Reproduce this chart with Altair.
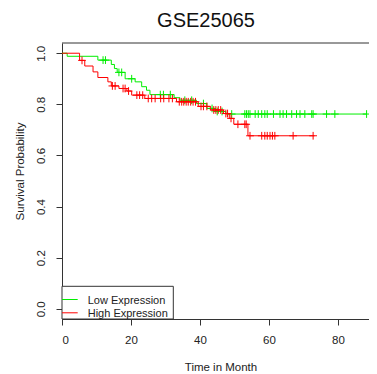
import altair as alt
import pandas as pd
import numpy as np

chart_title = "GSE25065"
groups = ["Low Expression", "High Expression"]
colors = ["#00ee00", "#ff0000"]

# Low expression (green) KM steps
low_t = [0, 1.5, 10.4, 14.3, 15.2, 16.0, 18.3, 21.2, 23.1, 24.5, 25.5, 32.5, 34.2, 39.0, 42.0, 44.5, 47.5]
low_s = [1.0, 0.988, 0.973, 0.956, 0.94, 0.925, 0.90, 0.888, 0.869, 0.855, 0.838, 0.826, 0.816, 0.803, 0.784, 0.772, 0.762]
low_end = 88.3
low_cens = [11.9, 12.6, 16.5, 17.3, 20.2, 28.5, 29.4, 31.4, 35.6, 37.6, 41.0, 43.5, 45.0, 46.4, 49.2,
            53.0, 53.5, 54.0, 54.5, 56.0, 56.9, 57.9, 58.8, 59.5, 61.3, 63.2, 64.1, 65.1, 66.6, 68.0,
            69.0, 70.4, 72.4, 72.8, 76.7, 79.1, 88.3]

# High expression (red) KM steps
high_t = [0, 5.1, 6.6, 9.0, 10.4, 13.3, 14.3, 16.5, 18.8, 20.2, 24.0, 33.2, 39.5, 43.0, 46.8, 48.5, 49.8, 53.9]
high_s = [1.0, 0.972, 0.95, 0.927, 0.905, 0.888, 0.872, 0.862, 0.852, 0.836, 0.823, 0.81, 0.792, 0.778, 0.764, 0.745, 0.722, 0.677]
high_end = 73.2
high_cens = [5.8, 14.6, 15.4, 17.7, 18.3, 19.3, 21.7, 22.5, 23.4, 25.0, 26.0, 27.0, 28.6, 29.5, 31.0, 32.0,
             34.0, 34.7, 35.3, 36.0, 36.6, 37.3, 38.0, 38.7, 40.3, 41.0, 42.0, 44.0, 44.6, 45.3, 46.0,
             47.5, 48.0, 49.0, 51.0, 53.0, 53.4, 54.5, 57.9, 58.8, 59.5, 60.3, 61.0, 61.7, 67.0, 72.8]

x_ticks = [0, 20, 40, 60, 80]
y_ticks = [0.0, 0.2, 0.4, 0.6, 0.8, 1.0]

W, H = 307, 276
FONT = "Liberation Sans"
AX = "#333333"


def curve(t, s, end, g):
    return pd.DataFrame({"time": list(t) + [end], "surv": list(s) + [s[-1]], "group": g})


def censor(t, s, cens, g):
    idx = np.searchsorted(np.array(t), np.array(cens), side="right") - 1
    return pd.DataFrame({"time": cens, "surv": np.array(s)[idx], "group": g})


xs = alt.Scale(domain=[0, 89], nice=False, zero=False)
ys = alt.Scale(domain=[-0.04, 1.04], nice=False, zero=False)

xaxis = alt.Axis(values=x_ticks, grid=False, tickSize=6, labelPadding=9, labelFontSize=11.5,
                 labelFont=FONT, labelColor="#222", domainColor=AX, tickColor=AX,
                 title="Time in Month", titleFont=FONT, titleFontSize=11.5, titleFontWeight="normal",
                 titleColor="#222", titleX=158.5, titleY=51, titleBaseline="alphabetic", titleAlign="center")
yaxis = alt.Axis(values=y_ticks, format=".1f", grid=False, tickSize=6, labelPadding=12,
                 labelAngle=270, labelAlign="center", labelBaseline="alphabetic",
                 labelFontSize=11.5, labelFont=FONT, labelColor="#222", domainColor=AX, tickColor=AX,
                 title="Survival Probability", titleFont=FONT, titleFontSize=11.5, titleFontWeight="normal",
                 titleColor="#222", titleAngle=270, titleX=-39, titleY=128, titleAlign="center",
                 titleBaseline="alphabetic")

X = alt.X("time:Q", scale=xs, axis=xaxis)
Y = alt.Y("surv:Q", scale=ys, axis=yaxis)

plus = "M0,-1V1M-1,0H1"

layers = []
for (t, s, end, cens), g, c in zip([(low_t, low_s, low_end, low_cens), (high_t, high_s, high_end, high_cens)],
                                   groups, colors):
    layers.append(alt.Chart(curve(t, s, end, g)).mark_line(interpolate="step-after", color=c, strokeWidth=1)
                  .encode(x=X, y=Y))
    layers.append(alt.Chart(censor(t, s, cens, g)).mark_point(shape=plus, filled=False, size=60,
                                                             strokeWidth=1, color=c, opacity=1)
                  .encode(x=X, y=Y))

blank = alt.Data(values=[{}])
top_border = alt.Chart(blank).mark_rule(color=AX, strokeWidth=1).encode(
    x=alt.value(0), x2=alt.value(W), y=alt.value(0))

title_text = alt.Chart(blank).mark_text(align="center", baseline="alphabetic", font=FONT,
                                        fontSize=20, color="#111").encode(
    x=alt.value(144), y=alt.value(-16.5), text=alt.value(chart_title))

# legend box
leg_box = alt.Chart(blank).mark_rect(fill="white", stroke=AX, strokeWidth=1).encode(
    x=alt.value(0), x2=alt.value(111.3), y=alt.value(243.3), y2=alt.value(276))
leg_layers = [leg_box]
leg_line_y = [256.5, 269.8]
leg_text_y = [260.8, 273.8]
for g, c, ly, ty in zip(groups, colors, leg_line_y, leg_text_y):
    leg_layers.append(alt.Chart(blank).mark_rule(color=c, strokeWidth=1).encode(
        x=alt.value(0), x2=alt.value(15.7), y=alt.value(ly)))
    leg_layers.append(alt.Chart(blank).mark_text(align="left", baseline="alphabetic", font=FONT,
                                                 fontSize=11, color="#222").encode(
        x=alt.value(25.7), y=alt.value(ty), text=alt.value(g)))

chart = alt.layer(*layers, top_border, title_text, *leg_layers).properties(
    width=W, height=H,
    autosize="none",
    padding={"left": 54, "top": 35, "right": 0, "bottom": 54},
).configure_view(strokeOpacity=0)

chart.save("out.html", embed_options={"renderer": "svg", "actions": False})
